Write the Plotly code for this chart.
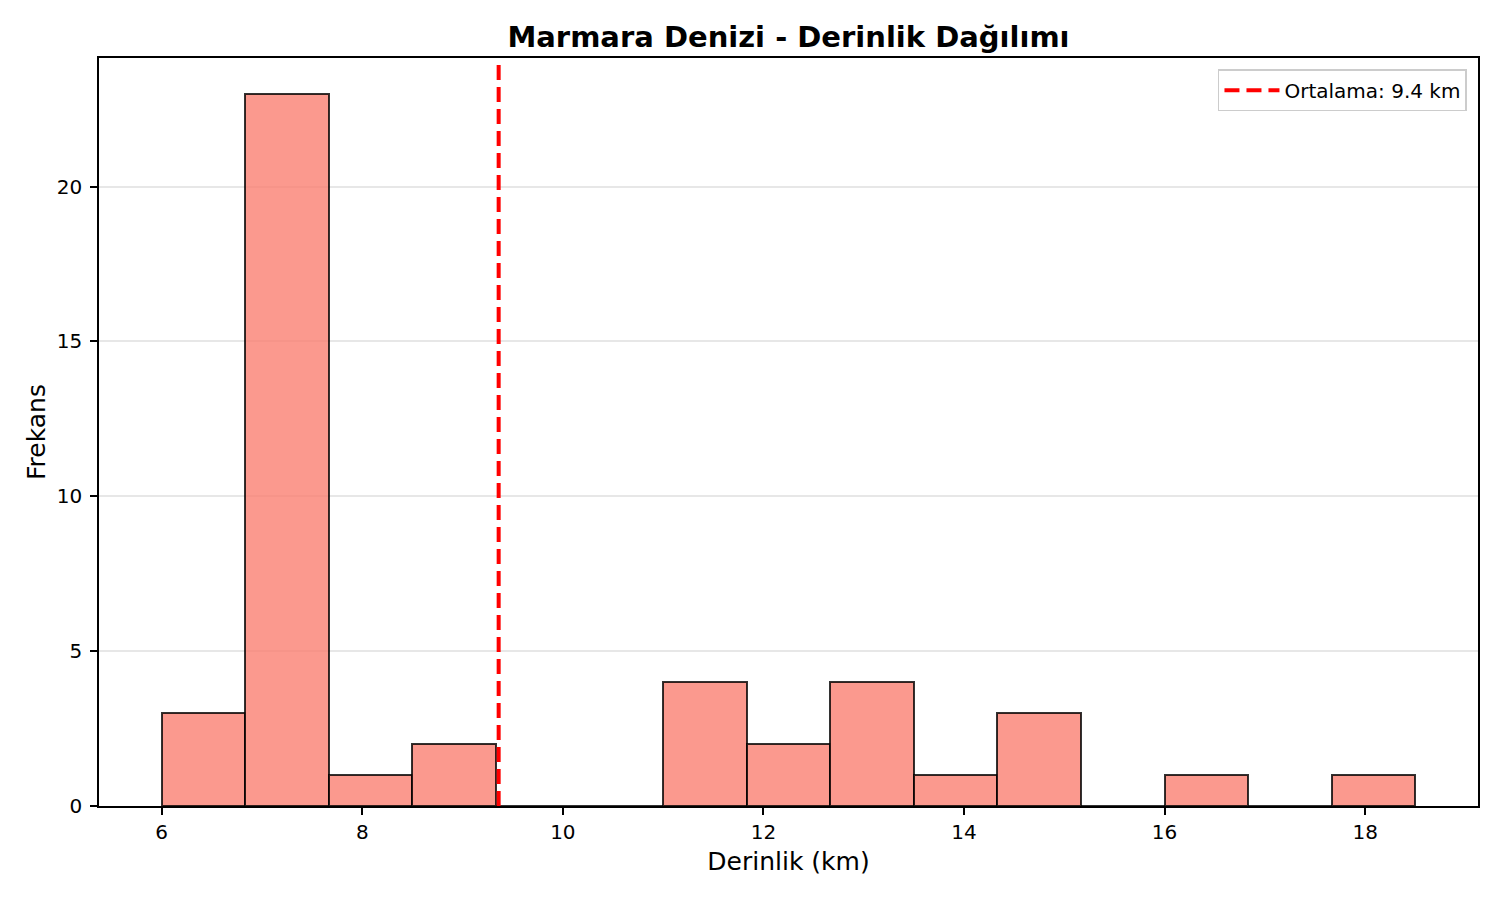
import plotly.graph_objs as go

# histogram bins (km) and counts
bin_start = 6.0
bin_width = 12.5 / 15
counts = [3, 23, 1, 2, 0, 0, 4, 2, 4, 1, 3, 0, 1, 0, 1]
mean_depth = 9.36

edges = [bin_start + i * bin_width for i in range(len(counts) + 1)]
centers = [(edges[i] + edges[i + 1]) / 2 for i in range(len(counts))]

y_top = max(counts) * 1.05
span = edges[-1] - edges[0]
x_range = [edges[0] - 0.05 * span, edges[-1] + 0.05 * span]

fig = go.Figure()

fig.add_trace(
    go.Bar(
        x=centers,
        y=counts,
        width=bin_width,
        marker_color='rgba(250,128,114,0.8)',
        marker_line_color='rgba(0,0,0,0.8)',
        marker_line_width=2,
        showlegend=False,
        hoverinfo='skip'
    )
)

fig.add_trace(
    go.Scatter(
        x=[mean_depth, mean_depth],
        y=[0, y_top],
        mode='lines',
        name="Ortalama: %.1f km" % mean_depth,
        line=dict(color='red', width=4, dash='15px,7px')
    )
)

# page body has an 8px margin, so the figure is a bit smaller than the window
fig.update_layout(
    width=1484,
    height=884,
    margin=dict(l=91, r=14, t=50, b=86),
    paper_bgcolor='white',
    plot_bgcolor='white',
    font=dict(family="DejaVu Sans", color='black', size=20),
    bargap=0,
    title=dict(
        text="<b>Marmara Denizi - Derinlik Dağılımı</b>",
        font=dict(family="DejaVu Sans", size=29),
        xref='paper',
        x=0.5,
        xanchor='center',
        y=1 - 29 / 884,
        yanchor='middle'
    ),
    xaxis=dict(
        range=x_range,
        showgrid=False,
        zeroline=False,
        showline=True,
        linecolor='black',
        linewidth=1.5,
        mirror=True,
        ticks='outside',
        ticklen=7,
        tickwidth=1.5,
        tickcolor='black',
        dtick=2,
        tickfont_size=20,
        title=dict(text="Derinlik (km)", font_size=25, standoff=10)
    ),
    yaxis=dict(
        range=[0, y_top],
        showgrid=True,
        gridcolor='#e7e7e7',
        gridwidth=1.5,
        zeroline=False,
        showline=True,
        linecolor='black',
        linewidth=1.5,
        mirror=True,
        ticks='outside',
        ticklen=7,
        tickwidth=1.5,
        tickcolor='black',
        ticklabelstandoff=4,
        dtick=5,
        tickfont_size=20,
        title=dict(text="Frekans", font_size=25, standoff=4)
    ),
    legend=dict(
        x=0.992,
        y=0.985,
        xanchor='right',
        yanchor='top',
        bgcolor='white',
        bordercolor='#cccccc',
        borderwidth=1.5,
        itemwidth=55,
        font_size=20
    )
)

fig.write_html("out.html")
